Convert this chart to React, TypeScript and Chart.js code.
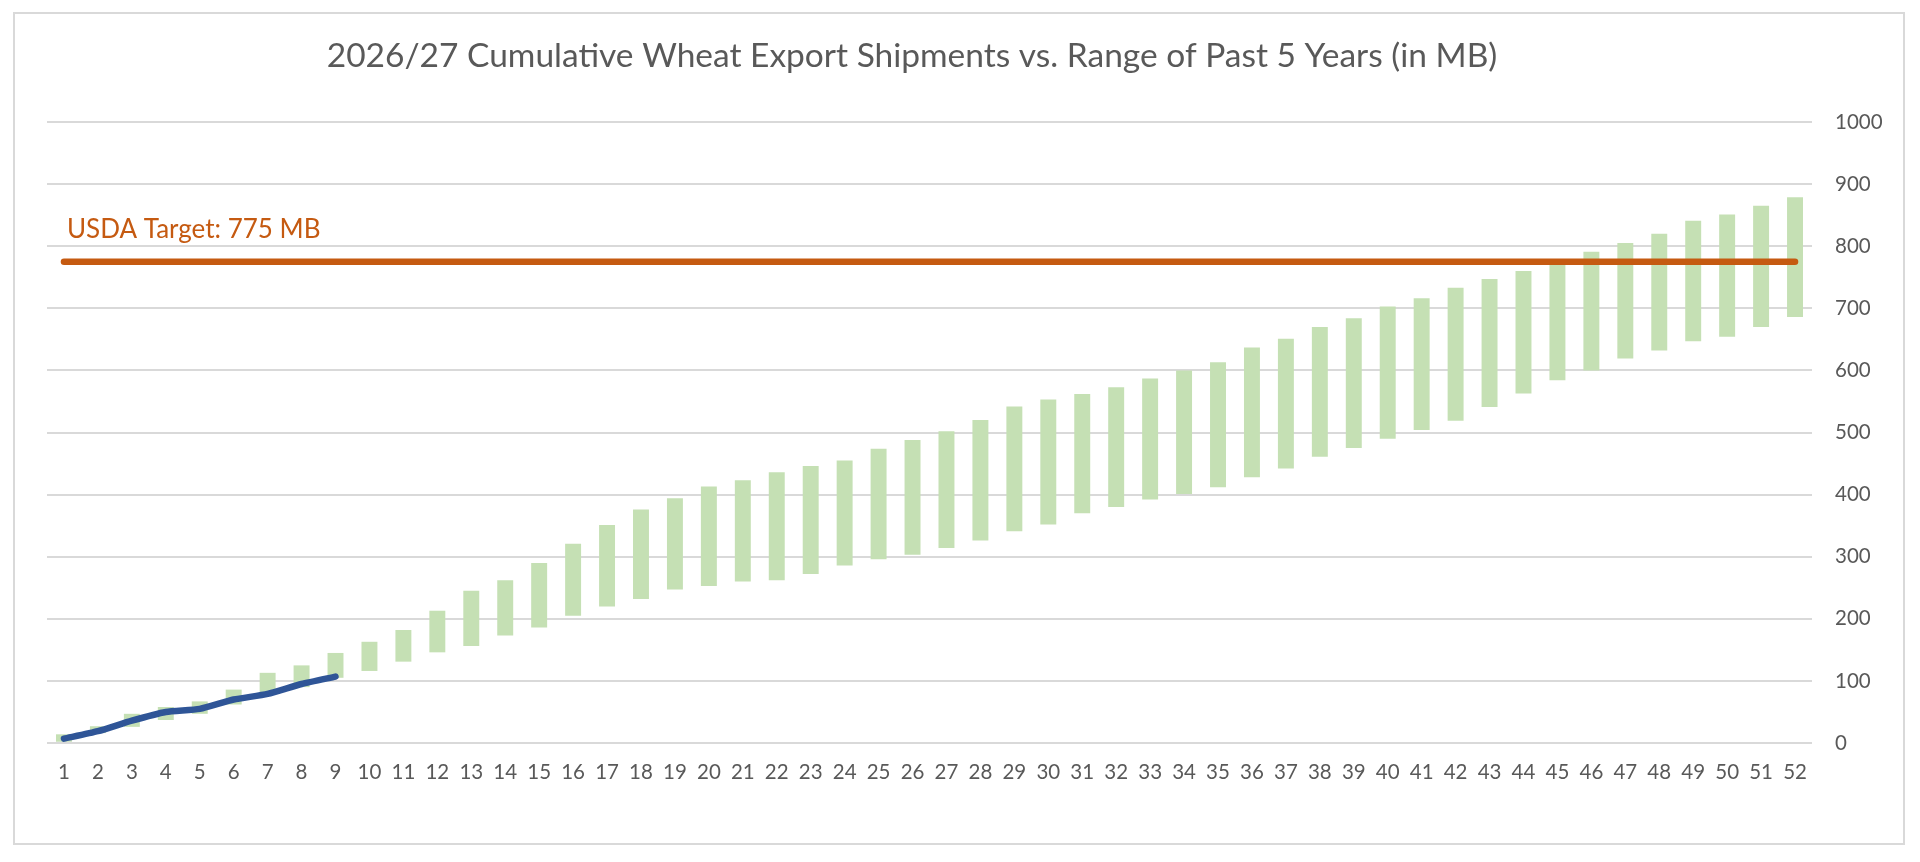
import { useEffect, useRef } from "react"
import { Chart, type ChartConfiguration, type Plugin, registerables } from "chart.js"

Chart.register(...registerables)

const weeks = [
  "1", "2", "3", "4", "5", "6", "7", "8", "9", "10", "11", "12", "13",
  "14", "15", "16", "17", "18", "19", "20", "21", "22", "23", "24", "25", "26",
  "27", "28", "29", "30", "31", "32", "33", "34", "35", "36", "37", "38", "39",
  "40", "41", "42", "43", "44", "45", "46", "47", "48", "49", "50", "51", "52",
]

// past 5 years, min and max of cumulative shipments per week (MB)
const rangeLow = [
  2, 16, 26, 37, 47, 62, 80, 90, 105, 116, 131, 146, 156,
  173, 186, 205, 220, 232, 247, 253, 260, 262, 272, 286, 296, 303,
  314, 326, 341, 352, 370, 380, 392, 401, 412, 428, 442, 461, 475,
  490, 504, 519, 541, 563, 584, 600, 619, 632, 647, 654, 670, 686,
]
const rangeHigh = [
  14, 27, 47, 58, 67, 86, 113, 125, 145, 163, 182, 213, 245,
  262, 290, 321, 351, 376, 394, 413, 423, 436, 446, 455, 474, 488,
  502, 520, 542, 553, 562, 573, 587, 600, 613, 637, 651, 670, 684,
  703, 716, 733, 747, 760, 775, 791, 805, 820, 841, 851, 865, 879,
]

// 2026/27 so far
const current = [7, 19, 36, 50, 55, 70, 79, 95, 107]

const usdaTarget = 775
const yTicks = [0, 100, 200, 300, 400, 500, 600, 700, 800, 900, 1000]

const FONT = "Lato, 'Noto Sans', sans-serif"
const GRAY = "#595959"

const textPlugin: Plugin = {
  id: "chartText",
  afterDraw(chart) {
    const ctx = chart.ctx
    ctx.save()
    ctx.textBaseline = "middle"
    ctx.textAlign = "center"
    ctx.fillStyle = GRAY
    ctx.font = `33.5px ${FONT}`
    ctx.fillText("2026/27 Cumulative Wheat Export Shipments vs. Range of Past 5 Years (in MB)", 912, 56)
    ctx.textAlign = "left"
    ctx.fillStyle = "#c55a11"
    ctx.font = `26px ${FONT}`
    ctx.fillText(`USDA Target: ${usdaTarget} MB`, 67, 230)
    ctx.restore()
  },
}

export default function App() {
  const chartRef = useRef<HTMLCanvasElement>(null)

  useEffect(() => {
    if (!chartRef.current) return
    const ctx = chartRef.current.getContext("2d")
    if (!ctx) return

    const config: ChartConfiguration = {
      type: "bar",
      data: {
        labels: weeks,
        datasets: [
          {
            type: "line",
            label: "USDA Target",
            data: weeks.map(() => usdaTarget),
            borderColor: "#c55a11",
            borderWidth: 6.5,
            borderCapStyle: "round",
            pointRadius: 0,
            order: 1,
          },
          {
            type: "line",
            label: "2026/27",
            data: current,
            borderColor: "#2f5597",
            borderWidth: 6.5,
            borderCapStyle: "round",
            borderJoinStyle: "round",
            tension: 0.2,
            pointRadius: 0,
            order: 0,
          },
          {
            type: "bar",
            label: "Range of Past 5 Years",
            data: rangeLow.map((lo, i) => [lo, rangeHigh[i]]),
            backgroundColor: "#c5e0b4",
            borderWidth: 0,
            barPercentage: 0.94,
            categoryPercentage: 0.5,
            order: 2,
          },
        ],
      },
      options: {
        responsive: false,
        animation: false,
        devicePixelRatio: 1,
        layout: {
          padding: { left: 47, top: 122, right: 0, bottom: 59 },
        },
        plugins: {
          legend: { display: false },
          title: { display: false },
          tooltip: { enabled: false },
        },
        scales: {
          x: {
            grid: { display: false, drawTicks: false },
            border: { display: false },
            ticks: {
              color: GRAY,
              font: { family: FONT, size: 20.5 },
              padding: 17,
              maxRotation: 0,
              autoSkip: false,
            },
            afterFit(scale) {
              scale.height = 60
            },
          },
          y: {
            position: "right",
            min: 0,
            max: 1000,
            afterBuildTicks(scale) {
              scale.ticks = yTicks.map((v) => ({ value: v }))
            },
            grid: { color: "#d9d9d9", lineWidth: 2, drawTicks: false },
            border: { display: false },
            ticks: {
              color: GRAY,
              font: { family: FONT, size: 20.5 },
              padding: 23,
              callback: (v) => String(v),
            },
            afterFit(scale) {
              scale.width = 108
            },
          },
        },
      },
      plugins: [textPlugin],
    }

    const chart = new Chart(ctx, config)
    return () => {
      chart.destroy()
    }
  }, [])

  return (
    <div style={{ position: "absolute", left: 0, top: 0, width: 1920, height: 862, background: "#fff" }}>
      <canvas ref={chartRef} width={1920} height={862} style={{ display: "block" }} />
      <div
        style={{
          position: "absolute",
          left: 13,
          top: 12,
          width: 1892,
          height: 833,
          border: "2px solid #d9d9d9",
          boxSizing: "border-box",
          pointerEvents: "none",
        }}
      />
    </div>
  )
}
